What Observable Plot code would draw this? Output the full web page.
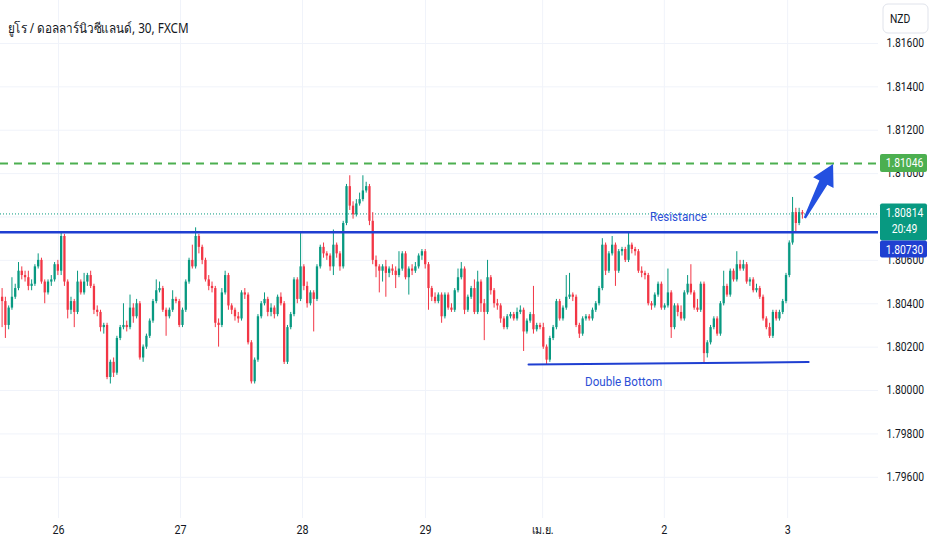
<!DOCTYPE html>
<html><head><meta charset="utf-8">
<script src="https://cdn.jsdelivr.net/npm/d3@7"></script>
<script src="https://cdn.jsdelivr.net/npm/@observablehq/plot@0.6"></script>
<style>
html,body{margin:0;padding:0;background:#fff;}
#chart{width:932px;height:550px;overflow:hidden;}
</style></head><body><div id="chart"></div>
<script>
// ---- data (quotes stored as pips above 1.80000) ----
const title = "ยูโร / ดอลลาร์นิวซีแลนด์, 30, FXCM";
const pipBase = 1.8, pipSize = 0.0001;
const opens = [
43,41,30,38,43,47,55,53,52,48, 49,57,60,50,45,50,51,58,55,71,
50,37,41,36,50,45,50,53,48,37, 36,29,30,6,13,8,24,29,30,29,
38,34,40,15,20,25,32,41,46,47, 37,34,37,42,41,30,37,50,60,57,
71,66,60,51,48,47,31,30,45,53, 39,37,34,33,45,44,22,4,14,34,
40,42,36,38,35,43,40,13,29,35, 51,42,57,48,40,45,42,57,66,63,
62,57,67,63,57,77,94,85,81,86, 88,92,94,78,60,57,55,57,54,56,
55,53,56,63,52,56,55,57,62,64, 58,47,43,41,44,34,44,38,37,46,
52,56,37,43,47,36,50,40,36,52, 46,40,39,33,29,34,35,33,36,37,
27,32,35,28,30,29,20,14,24,29, 41,33,38,43,44,43,30,26,33,34,
33,37,40,47,67,55,63,67,55,64, 65,60,67,65,64,55,54,53,40,39,
44,49,38,39,45,29,39,36,33,45, 49,45,38,37,49,17,22,29,33,26,
40,48,44,55,51,58,56,58,50,51, 46,47,43,33,29,25,36,33,36,41,
53,68,82,77,82];
const highs = [
47,43,39,52,49,59,57,55,55,51, 58,63,61,51,51,53,59,60,73,72,
51,43,42,55,51,54,54,55,49,39, 37,31,31,14,15,25,30,40,32,44,
40,42,41,21,26,33,42,51,50,48, 38,38,46,43,42,38,51,61,67,75,
72,67,61,53,50,48,33,47,55,54, 40,38,36,46,47,45,23,15,35,41,
45,43,40,39,44,45,41,30,36,52, 52,73,58,50,46,46,58,67,68,64,
63,74,68,64,78,95,99,87,88,91, 99,96,95,82,62,58,58,60,57,58,
57,64,64,64,57,58,59,63,65,65, 59,48,45,45,45,45,45,40,47,56,
59,57,44,48,51,55,51,42,60,53, 47,42,40,34,35,36,36,38,39,38,
33,36,48,31,31,31,21,25,30,42, 42,39,53,54,45,44,31,34,35,35,
38,41,48,70,68,64,71,68,65,66, 66,73,68,66,65,57,55,54,41,45,
50,50,40,56,46,40,40,39,46,53, 58,46,42,50,50,23,30,34,34,41,
55,49,56,56,64,60,60,59,52,52, 49,48,44,34,31,37,37,37,42,54,
69,89,84,84,83];
const lows = [
29,24,28,37,42,46,51,50,46,46, 48,56,49,40,44,48,50,53,53,48,
33,35,29,35,44,44,48,47,35,34, 27,26,5,3,6,7,23,28,27,28,
31,33,14,13,19,24,31,40,45,36, 25,33,36,40,29,29,36,49,56,56,
63,58,50,46,45,29,20,29,44,37, 35,32,31,32,42,21,3,3,13,33,
39,34,34,33,34,39,12,12,28,34, 40,41,46,38,39,27,41,56,61,60,
55,53,61,55,56,76,83,79,80,85, 87,91,76,58,52,45,50,43,52,53,
47,52,55,51,44,53,54,56,60,56, 37,41,40,40,31,33,37,36,36,45,
51,35,36,42,35,35,36,23,35,44, 38,37,31,28,28,33,32,32,35,18,
26,31,26,27,28,19,12,13,23,28, 32,32,37,42,41,29,24,25,32,32,
32,36,39,46,53,54,62,48,54,62, 59,59,63,62,54,52,51,39,37,38,
43,37,37,38,24,28,34,32,32,44, 44,37,36,36,12,15,21,28,25,25,
39,43,43,50,50,55,55,49,48,45, 45,42,32,28,24,24,32,32,35,40,
52,67,73,76,79];
const closes = [
41,30,38,43,47,55,53,52,48,49, 57,60,50,45,50,51,58,55,71,50,
37,41,36,50,45,50,53,48,37,36, 29,30,6,13,8,24,29,30,29,38,
34,40,15,20,25,32,41,46,47,37, 34,37,42,41,30,37,50,60,57,71,
66,60,51,48,47,31,30,45,53,39, 37,34,33,45,44,22,4,14,34,40,
42,36,38,35,43,40,13,29,35,51, 42,57,48,40,45,42,57,66,63,62,
57,67,63,57,77,94,85,81,86,88, 92,94,78,60,57,55,57,54,56,55,
53,56,63,52,56,55,57,62,64,58, 47,43,41,44,34,44,38,37,46,52,
56,37,43,47,36,50,40,36,52,46, 40,39,33,29,34,35,33,36,37,27,
32,35,28,30,29,20,14,24,29,41, 33,38,43,44,43,30,26,33,34,33,
37,40,47,67,55,63,67,55,64,65, 60,67,65,64,55,54,53,40,39,44,
49,38,39,45,29,39,36,33,45,49, 45,38,37,49,17,22,29,33,26,40,
48,44,55,51,58,56,58,50,51,46, 47,43,33,29,25,36,33,36,41,53,
68,82,77,82,81.4];

// time axis: bar-index positions of the day boundaries
const dayTicks  = [17.2, 54.4, 91.6, 129.1, 164.8, 201.9, 239.5];
const dayLabels = ["26", "27", "28", "29", "เม.ย.", "2", "3"];
const priceTicks = [1.796, 1.798, 1.800, 1.802, 1.804, 1.806, 1.808, 1.810, 1.812, 1.814, 1.816];
// tick label fully hidden behind the last-price tag in the reference
const hiddenTickLabels = [1.808];

const resistance = 1.80730;
const target = 1.81046;
const lastPrice = 1.80814;
const countdown = "20:49";
const currency = "NZD";
const doubleBottom = [{i: 160.5, p: 1.80120}, {i: 245.9, p: 1.80131}];
const arrowFrom = {i: 244.9, p: 1.80793};
const arrowTo = {i: 253.5, p: 1.81042};
const notes = [
  {text: "Resistance", i: 206.2, p: 1.80802},
  {text: "Double Bottom", i: 189.5, p: 1.80041}
];

// ---- build ----
const UP = "#089981", DOWN = "#F23645", BLUE = "#1f3fd1", NOTE = "#2b4fd6";
const axisFont = "Roboto,'Noto Sans',sans-serif";
const candles = opens.map((o, i) => ({
  i,
  o: pipBase + o * pipSize,
  h: pipBase + highs[i] * pipSize,
  l: pipBase + lows[i] * pipSize,
  c: pipBase + closes[i] * pipSize,
  col: closes[i] >= o ? UP : DOWN
}));
const tickLabels = priceTicks.filter(d => !hiddenTickLabels.includes(d));

function arrowMark(index, scales) {
  const x0 = scales.x(arrowFrom.i), y0 = scales.y(arrowFrom.p);
  const x1 = scales.x(arrowTo.i), y1 = scales.y(arrowTo.p);
  const dx = x1 - x0, dy = y1 - y0, L = Math.hypot(dx, dy);
  const ux = dx / L, uy = dy / L, nx = -uy, ny = ux;
  const head = 21, hw = 11.5, neckW = 4.5, tailW = 1.2;
  const bx = x1 - ux * head, by = y1 - uy * head;
  const pts = [
    [x0 + nx * tailW, y0 + ny * tailW], [bx + nx * neckW, by + ny * neckW],
    [bx + nx * hw, by + ny * hw], [x1, y1], [bx - nx * hw, by - ny * hw],
    [bx - nx * neckW, by - ny * neckW], [x0 - nx * tailW, y0 - ny * tailW]
  ];
  return d3.create("svg:path")
    .attr("d", "M" + pts.map(p => p.join(",")).join("L") + "Z")
    .attr("fill", "#2350e0").node();
}

function priceTags(index, scales, values, dims) {
  const y = scales.y;
  const x0 = dims.width - dims.marginRight + 2;
  const w = 47, cx = x0 + w / 2 + 1;
  const g = d3.create("svg:g").attr("font-family", axisFont).attr("font-size", 12);
  const tag = (top, h, fill, lines) => {
    g.append("rect").attr("x", x0).attr("y", top).attr("width", w).attr("height", h)
      .attr("rx", 2).attr("fill", fill);
    lines.forEach((t, k) => g.append("text").attr("x", cx).attr("y", top + 9 + k * 16)
      .attr("dy", "0.35em").attr("text-anchor", "middle").attr("fill", "#fff").text(t));
  };
  const yt = y(target);
  tag(yt - 9, 18, "#4caf50", [target.toFixed(5)]);
  const yl = y(lastPrice);
  tag(yl - 10, 37, UP, [lastPrice.toFixed(5), countdown]);
  tag(yl + 27, 17, BLUE, [resistance.toFixed(5)]);
  g.append("rect").attr("x", x0 + 3).attr("y", 4).attr("width", 45).attr("height", 29)
    .attr("rx", 5).attr("fill", "#fff").attr("stroke", "#e0e3eb");
  g.append("text").attr("x", x0 + 10).attr("y", 19).attr("dy", "0.35em")
    .attr("text-anchor", "start").attr("fill", "#131722").text(currency);
  return g.node();
}

const chart = Plot.plot({
  width: 932, height: 550,
  marginLeft: 0, marginRight: 54, marginTop: 0, marginBottom: 32,
  x: {type: "linear", domain: [-0.49, 267.2], axis: null},
  y: {domain: [1.79410, 1.81798], axis: null},
  color: {type: "identity"},
  style: {background: "#fff", overflow: "visible"},
  marks: [
    Plot.ruleY(priceTicks, {stroke: "#f0f3fa"}),
    Plot.ruleX(dayTicks, {stroke: "#f0f3fa"}),
    Plot.ruleY([target], {stroke: "#4caf50", strokeWidth: 2, strokeDasharray: "8,6"}),
    Plot.ruleY([lastPrice], {stroke: UP, strokeWidth: 1, strokeDasharray: "1,2"}),
    Plot.ruleX(candles, {x: "i", y1: "l", y2: "h", stroke: "col", strokeWidth: 1}),
    Plot.ruleX(candles, {x: "i", y1: "o", y2: "c", stroke: "col", strokeWidth: 2.3}),
    Plot.ruleY([resistance], {stroke: BLUE, strokeWidth: 2.5}),
    Plot.line(doubleBottom, {x: "i", y: "p", stroke: BLUE, strokeWidth: 2}),
    Plot.text(notes, {x: "i", y: "p", text: "text", fill: NOTE, fontSize: 13.5, fontFamily: axisFont}),
    arrowMark,
    Plot.text([title], {frameAnchor: "top-left", dx: 7, dy: 23, textAnchor: "start",
      fill: "#131722", fontSize: 13.5, fontFamily: "'Noto Sans',sans-serif"}),
    Plot.text(tickLabels, {y: d => d, text: d => d.toFixed(5), frameAnchor: "right", dx: 8,
      textAnchor: "start", fill: "#131722", fontSize: 12, fontFamily: axisFont}),
    Plot.text(dayTicks, {x: d => d, text: (d, i) => dayLabels[i], frameAnchor: "bottom", dy: 15,
      fill: "#131722", fontSize: 12.5, fontFamily: axisFont}),
    priceTags
  ]
});
document.getElementById("chart").append(chart);

// the reference screenshot is horizontally condensed: narrow every label the same way
chart.querySelectorAll("text").forEach(t => {
  const len = t.getComputedTextLength();
  if (!len) return;
  const k = t.textContent === title ? 0.87 : 0.86;
  t.setAttribute("textLength", (len * k).toFixed(2));
  t.setAttribute("lengthAdjust", "spacingAndGlyphs");
});
</script></body></html>
